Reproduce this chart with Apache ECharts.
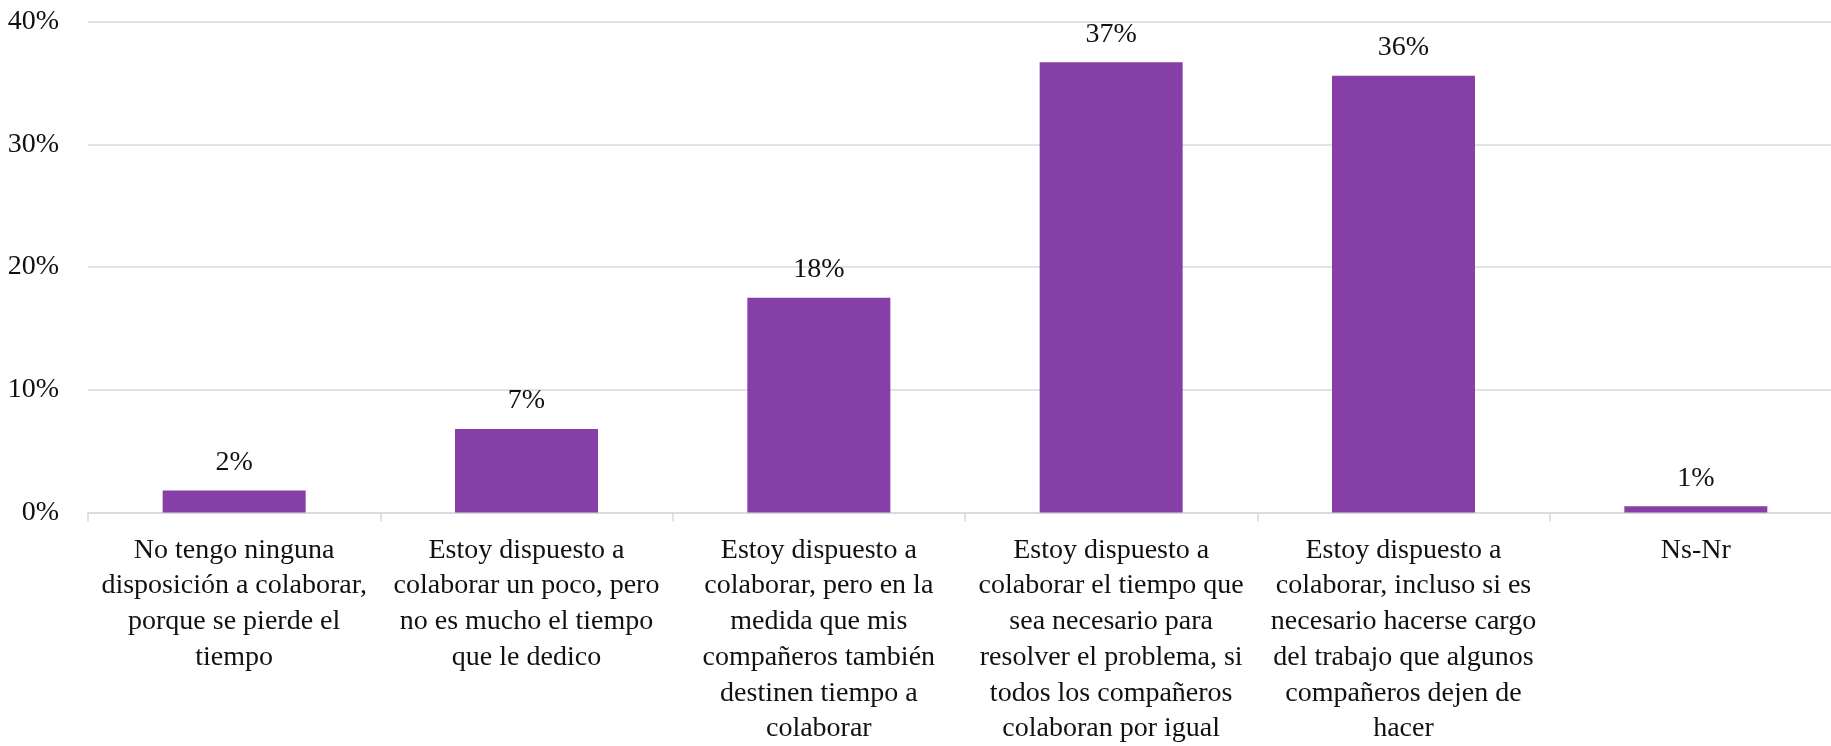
<!DOCTYPE html>
<html>
<head>
<meta charset="utf-8">
<script src="https://cdn.jsdelivr.net/npm/echarts@6/dist/echarts.min.js"></script>
<style>
html,body{margin:0;padding:0;background:#fff;}
#chart{width:1831px;height:746px;}
</style>
</head>
<body>
<div id="chart"></div>
<script>
const categories = [
  "No tengo ninguna\ndisposición a colaborar,\nporque se pierde el\ntiempo",
  "Estoy dispuesto a\ncolaborar un poco, pero\nno es mucho el tiempo\nque le dedico",
  "Estoy dispuesto a\ncolaborar, pero en la\nmedida que mis\ncompañeros también\ndestinen tiempo a\ncolaborar",
  "Estoy dispuesto a\ncolaborar el tiempo que\nsea necesario para\nresolver el problema, si\ntodos los compañeros\ncolaboran por igual",
  "Estoy dispuesto a\ncolaborar, incluso si es\nnecesario hacerse cargo\ndel trabajo que algunos\ncompañeros dejen de\nhacer",
  "Ns-Nr"
];
const values = [1.8, 6.8, 17.5, 36.7, 35.6, 0.5];
const yTicks = [0, 10, 20, 30, 40];

const FONT = '"Liberation Serif", "DejaVu Serif", serif';
const chart = echarts.init(document.getElementById('chart'));
chart.setOption({
  animation: false,
  backgroundColor: '#ffffff',
  grid: { left: 88, top: 21.7, width: 1754, height: 490.8, containLabel: false, outerBoundsMode: 'none' },
  xAxis: {
    type: 'category',
    data: categories,
    axisLine: { lineStyle: { color: '#D9D9D9', width: 1.5 } },
    axisTick: { show: true, length: 9, lineStyle: { color: '#D9D9D9', width: 1.5 } },
    axisLabel: {
      interval: 0,
      margin: 20,
      fontFamily: FONT,
      fontSize: 28,
      lineHeight: 35.7,
      color: '#111111',
      align: 'center'
    }
  },
  yAxis: {
    type: 'value',
    min: yTicks[0],
    max: yTicks[yTicks.length - 1],
    interval: 10,
    axisLine: { show: false },
    axisTick: { show: false },
    splitLine: { lineStyle: { color: '#D9D9D9', width: 1.5 } },
    axisLabel: {
      margin: 29,
      fontFamily: FONT,
      fontSize: 28,
      color: '#111111',
      formatter: v => v + '%'
    }
  },
  series: [{
    type: 'bar',
    data: values,
    barWidth: 143,
    itemStyle: { color: '#853FA6' },
    label: {
      show: true,
      position: 'top',
      distance: 14,
      fontFamily: FONT,
      fontSize: 28,
      color: '#111111',
      formatter: p => Math.round(p.value) + '%'
    }
  }]
});
</script>
</body>
</html>
